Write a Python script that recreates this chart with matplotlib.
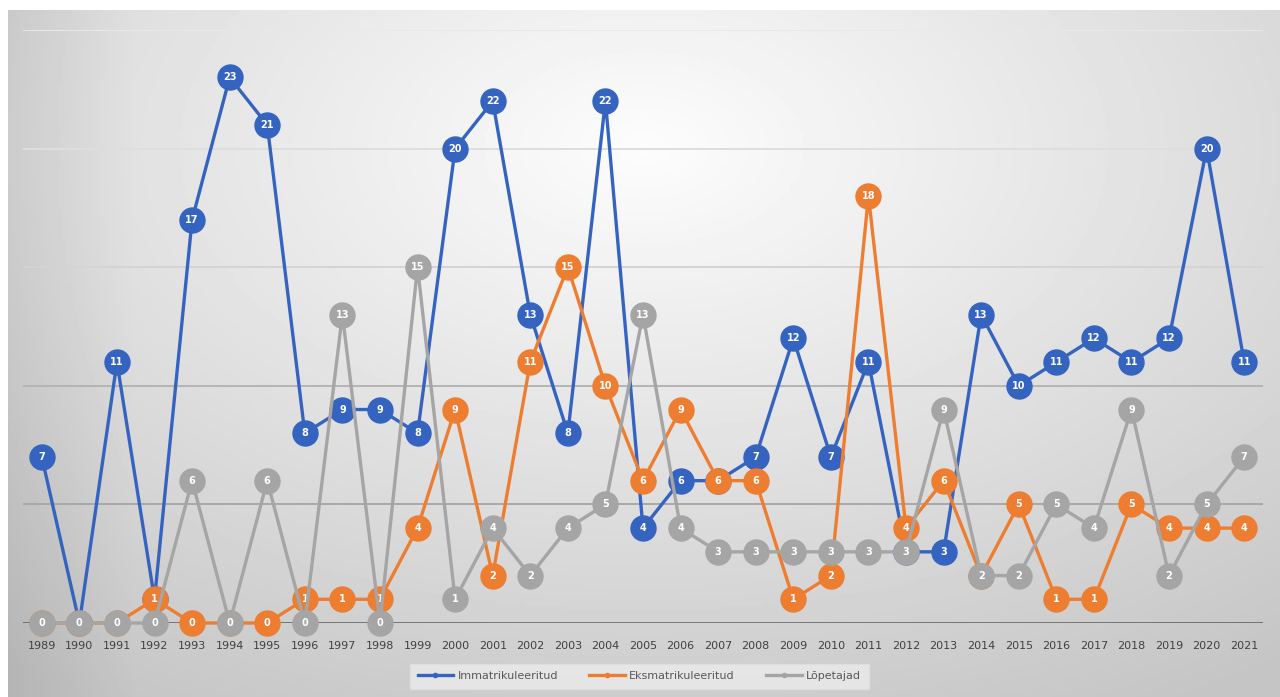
import matplotlib
matplotlib.use("Agg")
import matplotlib.pyplot as plt
import numpy as np

# data
years = list(range(1989, 2022))
immat = [7, 0, 11, 1, 17, 23, 21, 8, 9, 9, 8, 20, 22, 13, 8, 22, 4, 6, 6, 7, 12, 7, 11, 3, 3,
         13, 10, 11, 12, 11, 12, 20, 11]
eksmat = [0, 0, 0, 1, 0, 0, 0, 1, 1, 1, 4, 9, 2, 11, 15, 10, 6, 9, 6, 6, 1, 2, 18, 4, 6,
          2, 5, 1, 1, 5, 4, 4, 4]
lopet = [0, 0, 0, 0, 6, 0, 6, 0, 13, 0, 15, 1, 4, 2, 4, 5, 13, 4, 3, 3, 3, 3, 3, 3, 9,
         2, 2, 5, 4, 9, 2, 5, 7]

names = ['Immatrikuleeritud', 'Eksmatrikuleeritud', 'Lõpetajad']
colors = ['#3563c0', '#ed7d31', '#a5a5a5']

fig = plt.figure(figsize=(12.8, 6.97), dpi=100)
fig.patch.set_facecolor('white')

# gradient backdrop panel
bg = fig.add_axes([8 / 1280, 0, 1 - 8 / 1280, 1 - 10 / 697])
gx, gy = np.meshgrid(np.linspace(-1, 1, 400), np.linspace(-1, 1, 220))
r = np.sqrt((gx * 0.95) ** 2 + ((gy + 0.6) * 0.85) ** 2)
shade = 0.99 - 0.22 * np.clip(r, 0, 1.6) / 1.6
shade -= 0.06 * np.clip((-gx - 0.8) / 0.2, 0, 1)
bg.imshow(shade, cmap='gray', vmin=0, vmax=1, aspect='auto', origin='upper',
          extent=[0, 1, 0, 1])
bg.set_axis_off()

ax = fig.add_axes([23 / 1280, 74 / 697, 1240 / 1280, 593 / 697])
ax.patch.set_alpha(0)
ax.set_xlim(1988.5, 2021.5)
ax.set_ylim(0, 25)

grid_cols = {5: '#a8a8a8', 10: '#b4b4b4', 15: '#d4d4d4', 20: '#dedede', 25: '#e8e8e8'}
for v, c in grid_cols.items():
    ax.axhline(v, color=c, lw=1.4, zorder=0)
ax.axhline(0, color='#5a5a5a', lw=1.8, zorder=0.5)

for i, (vals, name, col) in enumerate(zip([immat, eksmat, lopet], names, colors)):
    z = 2 + i * 2
    ax.plot(years, vals, color=col, lw=2.4, zorder=z, label=name,
            marker='o', markersize=3, clip_on=False)
    ax.plot(years, vals, ls='none', marker='o', markersize=18, color=col,
            markeredgecolor=col, zorder=z + 0.5, clip_on=False)
    for x, v in zip(years, vals):
        ax.text(x, v, str(v), color='white', fontsize=7, fontweight='bold',
                ha='center', va='center', zorder=z + 0.6)

ax.set_xticks(years)
ax.set_xticklabels([str(y) for y in years], fontsize=8, color='#404040')
ax.tick_params(axis='x', length=0, pad=13)
ax.set_yticks([])
for s in ax.spines.values():
    s.set_visible(False)

leg = ax.legend(loc='center', bbox_to_anchor=(0.497, -0.09), ncol=3, frameon=True,
                fontsize=8, handlelength=3.2, handletextpad=0.4, columnspacing=2.8,
                borderpad=0.5)
leg.get_frame().set_facecolor('#ececec')
leg.get_frame().set_edgecolor('#e0e0e0')
leg.get_frame().set_boxstyle('square', pad=0.2)
for t in leg.get_texts():
    t.set_color('#595959')

fig.savefig('out.png', dpi=100)
